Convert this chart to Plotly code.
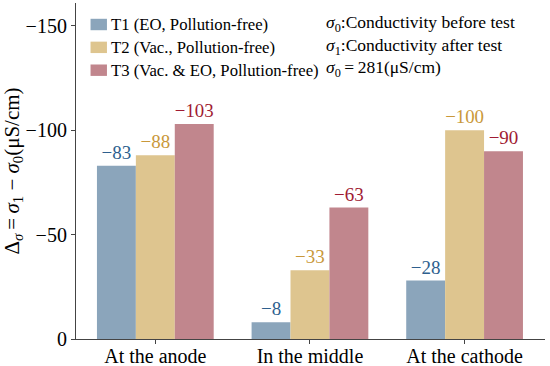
import plotly.graph_objects as go

categories = ["At the anode", "In the middle", "At the cathode"]
series_names = ["T1 (EO, Pollution-free)", "T2 (Vac., Pollution-free)", "T3 (Vac. & EO, Pollution-free)"]
t1_values = [-83, -8, -28]
t2_values = [-88, -33, -100]
t3_values = [-103, -63, -90]
y_ticks = [-150, -100, -50, 0]
notes = [
    "<i>\u03c3</i><sub>0</sub>:Conductivity before test",
    "<i>\u03c3</i><sub>1</sub>:Conductivity after test",
    "<i>\u03c3</i><sub>0</sub>\u2009=\u2009281(\u03bcS/cm)",
]

bar_colors = ["#8BA5BB", "#DEC58F", "#C1868D"]
label_colors = ["#2E5F8E", "#C9983A", "#A01B33"]

FONT = "Liberation Serif"

def fmt(v):
    return ("\u2212" + str(abs(v))) if v < 0 else str(v)

fig = go.Figure()
for name, vals, bc, lc in zip(series_names, [t1_values, t2_values, t3_values], bar_colors, label_colors):
    fig.add_trace(go.Bar(
        x=categories, y=vals, name=name,
        marker=dict(color=bc, line=dict(width=0)),
        text=[fmt(v) for v in vals], textposition="outside",
        textfont=dict(family=FONT, size=19, color=lc),
        cliponaxis=False, showlegend=False,
    ))

fig.update_layout(
    width=550, height=366,
    margin=dict(l=76, r=5, t=3, b=27),
    paper_bgcolor="white", plot_bgcolor="white",
    barmode="group", bargap=0.245, bargroupgap=0,
    font=dict(family=FONT, size=18, color="black"),
    showlegend=False,
    xaxis=dict(range=[-0.513, 2.52], showline=True, linecolor="#444", linewidth=1.2,
               ticks="outside", ticklen=4, tickcolor="#444", automargin=False,
               ticklabelstandoff=-5,
               tickfont=dict(family=FONT, size=20), showgrid=False),
    yaxis=dict(range=[0, -161], tickvals=y_ticks,
               showline=True, linecolor="#444", linewidth=1.2,
               ticks="outside", ticklen=4, tickcolor="#444", automargin=False,
               tickfont=dict(family=FONT, size=20), showgrid=False, zeroline=False,
               title=dict(text="\u0394<sub><i>\u03c3</i></sub>\u2009=\u2009<i>\u03c3</i><sub>1</sub> \u2212 <i>\u03c3</i><sub>0</sub>(\u03bcS/cm)",
                          font=dict(family=FONT, size=21), standoff=6)),
)

# legend drawn as swatches + labels, from series names and colours
row_y = [0.936, 0.868, 0.800]
for name, bc, ry in zip(series_names, bar_colors, row_y):
    fig.add_shape(type="rect", xref="paper", yref="paper",
                  x0=0.031, x1=0.066, y0=ry - 0.017, y1=ry + 0.017,
                  fillcolor=bc, line=dict(width=0))
    fig.add_annotation(text=name, xref="paper", yref="paper", x=0.07, y=ry,
                       xanchor="left", yanchor="middle", showarrow=False,
                       font=dict(family=FONT, size=16.7, color="black"))

for t, ry in zip(notes, row_y):
    fig.add_annotation(text=t, xref="paper", yref="paper", x=0.528, y=ry + 0.004,
                       xanchor="left", yanchor="middle", showarrow=False,
                       font=dict(family=FONT, size=17.5, color="black"))

fig.write_html("out.html", config={"displayModeBar": False},
               post_script="document.body.style.margin='0';document.body.style.overflow='hidden';")
